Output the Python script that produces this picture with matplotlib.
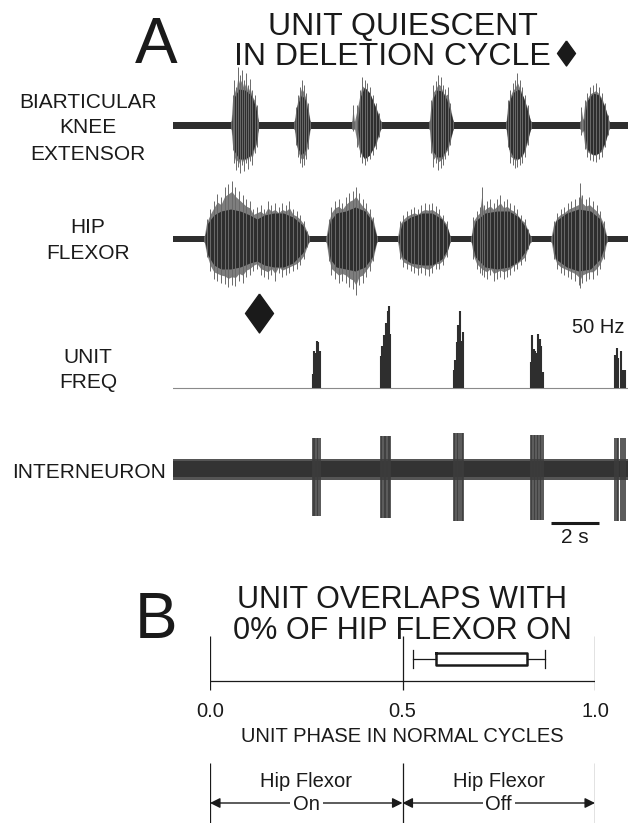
import numpy as np
import matplotlib
matplotlib.use("Agg")
import matplotlib.pyplot as plt
from matplotlib.lines import Line2D

plt.rcParams['font.family'] = ['Liberation Sans', 'DejaVu Sans']

# ---- data (time in s, EMG amplitude in arbitrary units, unit freq in Hz) ----
T_END = 18.96

# knee extensor bursts: outer spike extents (t, up, down) and dense core
KNEE_OUTER = [
    [(2.42, 4, 4), (2.48, 30, 25), (2.55, 45, 38), (2.62, 38, 45), (2.70, 58, 42), (2.78, 50, 48), (2.86, 55, 40),
     (2.95, 45, 46), (3.04, 52, 38), (3.12, 40, 44), (3.20, 46, 36), (3.30, 35, 40), (3.40, 30, 28), (3.50, 20, 22), (3.56, 4, 4)],
    [(5.05, 4, 4), (5.12, 18, 20), (5.20, 30, 32), (5.28, 38, 38), (5.36, 45, 42), (5.45, 40, 40), (5.54, 32, 34),
     (5.62, 22, 24), (5.72, 4, 4)],
    [(7.45, 4, 4), (7.50, 20, 6), (7.56, 4, 4), (7.68, 20, 22), (7.78, 35, 32), (7.88, 48, 38), (7.98, 45, 40),
     (8.08, 42, 36), (8.20, 38, 34), (8.32, 30, 30), (8.45, 22, 24), (8.58, 12, 12), (8.66, 4, 4)],
    [(10.68, 4, 4), (10.75, 25, 28), (10.85, 40, 42), (10.95, 44, 38), (11.05, 50, 45), (11.15, 48, 43),
     (11.25, 40, 40), (11.35, 36, 34), (11.45, 38, 30), (11.55, 22, 20), (11.68, 4, 4)],
    [(13.88, 4, 4), (13.95, 25, 22), (14.05, 35, 38), (14.15, 42, 40), (14.25, 45, 43), (14.35, 52, 42),
     (14.45, 45, 40), (14.55, 38, 38), (14.65, 30, 32), (14.78, 20, 20), (14.90, 4, 4)],
    [(16.98, 4, 4), (17.02, 18, 10), (17.08, 6, 6), (17.15, 25, 24), (17.25, 32, 32), (17.38, 38, 35),
     (17.50, 40, 36), (17.62, 42, 37), (17.75, 38, 34), (17.88, 32, 32), (18.00, 22, 22), (18.12, 10, 10), (18.18, 4, 4)],
]
KNEE_CORE = [
    [(2.45, 4, 4), (2.55, 28, 26), (2.75, 36, 34), (3.00, 35, 34), (3.25, 30, 30), (3.45, 18, 18), (3.55, 4, 4)],
    [(5.08, 4, 4), (5.18, 20, 22), (5.35, 30, 30), (5.50, 26, 26), (5.62, 14, 14), (5.70, 4, 4)],
    [(7.70, 4, 4), (7.80, 28, 26), (7.98, 38, 34), (8.20, 32, 30), (8.40, 20, 20), (8.58, 8, 8), (8.64, 4, 4)],
    [(10.72, 4, 4), (10.82, 26, 26), (11.00, 35, 32), (11.20, 34, 32), (11.40, 26, 24), (11.60, 10, 10), (11.67, 4, 4)],
    [(13.90, 4, 4), (14.00, 24, 24), (14.20, 33, 33), (14.40, 36, 34), (14.60, 28, 28), (14.80, 12, 12), (14.90, 4, 4)],
    [(17.12, 4, 4), (17.25, 24, 24), (17.50, 32, 30), (17.75, 30, 28), (18.00, 18, 18), (18.15, 4, 4)],
]
KNEE_NOISE = 3.5

HIP_OUTER = [
    [(1.30, 3, 3), (1.40, 20, 18), (1.55, 30, 32), (1.70, 38, 40), (1.85, 45, 42), (2.00, 42, 44), (2.15, 52, 45),
     (2.30, 55, 48), (2.45, 58, 46), (2.60, 52, 47), (2.75, 48, 42), (2.90, 44, 44), (3.05, 40, 38), (3.20, 38, 36),
     (3.35, 30, 32), (3.50, 32, 30), (3.65, 34, 36), (3.80, 30, 38), (3.95, 38, 40), (4.10, 34, 36), (4.25, 36, 42),
     (4.40, 32, 34), (4.55, 36, 38), (4.70, 34, 36), (4.85, 38, 34), (5.00, 30, 32), (5.15, 28, 30), (5.30, 24, 26),
     (5.45, 18, 20), (5.60, 8, 8), (5.68, 3, 3)],
    [(6.38, 3, 3), (6.48, 20, 22), (6.60, 32, 36), (6.75, 38, 40), (6.90, 40, 44), (7.05, 36, 42), (7.20, 42, 44),
     (7.35, 46, 48), (7.50, 48, 50), (7.62, 52, 56), (7.75, 46, 46), (7.90, 40, 44), (8.05, 36, 38), (8.20, 30, 32),
     (8.35, 22, 22), (8.50, 3, 3)],
    [(9.36, 3, 3), (9.45, 18, 20), (9.60, 24, 28), (9.75, 28, 30), (9.90, 30, 32), (10.05, 32, 34), (10.20, 30, 36),
     (10.35, 34, 34), (10.50, 36, 36), (10.65, 35, 37), (10.80, 36, 34), (10.95, 33, 30), (11.10, 30, 30),
     (11.25, 24, 26), (11.40, 18, 18), (11.55, 3, 3)],
    [(12.42, 3, 3), (12.52, 22, 20), (12.65, 28, 30), (12.78, 32, 34), (12.86, 52, 36), (12.94, 34, 38),
     (13.08, 38, 40), (13.22, 40, 36), (13.36, 36, 42), (13.50, 40, 40), (13.64, 44, 38), (13.78, 38, 40),
     (13.92, 40, 38), (14.06, 36, 36), (14.20, 34, 32), (14.34, 30, 30), (14.50, 24, 26), (14.66, 20, 22),
     (14.80, 10, 10), (14.90, 3, 3)],
    [(15.76, 3, 3), (15.86, 18, 20), (16.00, 26, 30), (16.15, 30, 34), (16.30, 32, 36), (16.45, 36, 38),
     (16.60, 38, 40), (16.75, 40, 42), (16.90, 42, 46), (16.97, 56, 49), (17.05, 44, 44), (17.20, 40, 42),
     (17.35, 42, 40), (17.50, 38, 40), (17.65, 34, 36), (17.80, 28, 30), (17.95, 18, 20), (18.08, 3, 3)],
]
HIP_CORE = [
    [(1.33, 3, 3), (1.45, 16, 16), (1.70, 24, 26), (2.00, 28, 30), (2.40, 30, 30), (2.80, 28, 28), (3.20, 24, 24),
     (3.50, 20, 22), (3.80, 24, 26), (4.20, 26, 28), (4.60, 26, 28), (5.00, 22, 24), (5.40, 14, 14), (5.64, 3, 3)],
    [(6.42, 3, 3), (6.55, 18, 20), (6.80, 26, 28), (7.20, 28, 30), (7.60, 32, 32), (8.00, 28, 28), (8.30, 18, 18), (8.48, 3, 3)],
    [(9.40, 3, 3), (9.55, 16, 18), (9.90, 22, 24), (10.40, 26, 26), (10.80, 26, 26), (11.20, 20, 20), (11.45, 10, 10), (11.54, 3, 3)],
    [(12.44, 3, 3), (12.60, 18, 18), (13.00, 26, 28), (13.50, 28, 30), (14.00, 28, 28), (14.40, 22, 22), (14.75, 10, 10), (14.88, 3, 3)],
    [(15.80, 3, 3), (15.95, 18, 20), (16.40, 26, 28), (16.90, 30, 32), (17.40, 28, 30), (17.80, 20, 20), (18.05, 3, 3)],
]
HIP_NOISE = 3.2

# unit spike times (s) and instantaneous frequency (Hz), one list per burst
UNIT_TIMES = [
    [5.82, 5.88, 5.93, 6.00, 6.05, 6.11],
    [8.67, 8.72, 8.78, 8.83, 8.89, 8.95, 9.00, 9.05],
    [11.71, 11.76, 11.82, 11.89, 11.96, 12.04, 12.10],
    [14.92, 14.97, 15.03, 15.08, 15.15, 15.22, 15.29, 15.35, 15.42],
    [18.42, 18.49, 18.55, 18.65, 18.74, 18.83],
]
UNIT_FREQ = [
    [8, 21, 20, 27, 26, 21],
    [18, 24, 30, 28, 37, 44, 47, 31],
    [10, 16, 26, 36, 44, 27, 32],
    [15, 30, 22, 21, 20, 31, 28, 24, 9],
    [19, 23, 17, 21, 10, 10],
]
# interneuron spike extents per burst (up, down)
SPIKE_UP = [30, 32, 35, 33, 30]
SPIKE_DOWN = [48, 50, 53, 52, 53]
INT_NOISE = (9, 12)
DELETION_T = 3.58

# panel B: phase of unit activity in normal cycles
PHASE_WHISK_LO, PHASE_Q1, PHASE_Q3, PHASE_WHISK_HI = 0.527, 0.587, 0.823, 0.870
PHASE_TICKS = [0.0, 0.5, 1.0]
PHASE_TICKLABELS = ["0.0", "0.5", "1.0"]

DARK = "#2e2e2e"
MID = "#6a6a6a"
HALO = "#7e7e7e"
TXT = "#1a1a1a"

W, H = 628, 823
fig = plt.figure(figsize=(W / 100, H / 100), dpi=100)


def box(left, top, right, bottom):
    return [left / W, 1 - bottom / H, (right - left) / W, (bottom - top) / H]


def ftext(x, y, s, size, ha="center", **kw):
    fig.text(x / W, 1 - y / H, s, fontsize=size, ha=ha, va="baseline", color=TXT, **kw)


def emg(ax, outer, core, noise):
    ax.fill_between([0, T_END], [noise, noise], [-noise, -noise], color=DARK, lw=0)
    for b in outer:
        a = np.array(b, dtype=float)
        # dense grey spikes hugging the core, sparse taller spikes beyond
        ax.fill_between(a[:, 0], a[:, 1] * 0.82, -a[:, 2] * 0.82, color=HALO, lw=0)
        ax.vlines(a[:, 0], -a[:, 2], a[:, 1], color=MID, lw=0.7)
    for b in core:
        a = np.array(b, dtype=float)
        ax.fill_between(a[:, 0], a[:, 1], -a[:, 2], color=DARK, lw=0)


def trace_axes(rect, ylim):
    ax = fig.add_axes(rect)
    ax.set_xlim(0, T_END)
    ax.set_ylim(*ylim)
    ax.axis("off")
    ax.patch.set_alpha(0)
    return ax


# ---- panel A ----
ax_knee = trace_axes(box(173, 60, 628, 190), (-65, 65))
emg(ax_knee, KNEE_OUTER, KNEE_CORE, KNEE_NOISE)

ax_hip = trace_axes(box(173, 174, 628, 304), (-65, 65))
emg(ax_hip, HIP_OUTER, HIP_CORE, HIP_NOISE)

ax_unit = trace_axes(box(173, 286, 628, 392), (-2.28, 58.15))
ax_unit.axhline(0, color="#8a8a8a", lw=0.8)
for ts, fs in zip(UNIT_TIMES, UNIT_FREQ):
    ax_unit.vlines(ts, 0, fs, color=DARK, lw=1.5)
diamond = [(0, 1), (0.72, 0), (0, -1), (-0.72, 0), (0, 1)]
ax_unit.plot([DELETION_T], [43], marker=diamond, markersize=28, color="#1a1a1a", ls="none")

ax_int = trace_axes(box(173, 420, 628, 545), (-77, 48))
ax_int.fill_between([0, T_END], [INT_NOISE[0]] * 2, [-INT_NOISE[1]] * 2, color="#555555", lw=0)
ax_int.fill_between([0, T_END], [7] * 2, [-9] * 2, color="#333333", lw=0)
for ts, up, dn in zip(UNIT_TIMES, SPIKE_UP, SPIKE_DOWN):
    ax_int.vlines(ts, -dn, up, color="#3c3c3c", lw=1.2)
ax_int.plot([15.75, 17.75], [-55, -55], color=TXT, lw=2.2, solid_capstyle="butt")
ax_int.text(16.75, -75, "2 s", fontsize=15, ha="center", va="baseline", color=TXT)

ftext(135, 63, "A", 46, ha="left")
ftext(403, 35, "UNIT QUIESCENT", 23)
ftext(392, 65, "IN DELETION CYCLE", 23)
fig.add_artist(Line2D([566 / W], [1 - 52.5 / H], marker=diamond, markersize=18, color="#1a1a1a",
                      ls="none", transform=fig.transFigure))

for lines, base in [(["BIARTICULAR", "KNEE", "EXTENSOR"], [108, 133, 160]),
                    (["HIP", "FLEXOR"], [233, 259]),
                    (["UNIT", "FREQ"], [363, 388])]:
    for s, y in zip(lines, base):
        ftext(88, y, s, 15)
ftext(12, 478, "INTERNEURON", 15, ha="left")
ftext(598, 333, "50 Hz", 14.5)

# ---- panel B ----
ftext(135, 638, "B", 46, ha="left")
ftext(402, 608, "UNIT OVERLAPS WITH", 22)
ftext(402, 639, "0% OF HIP FLEXOR ON", 22)

TOP_B = 630
ax_b = fig.add_axes(box(210, TOP_B, 595, H))
ax_b.set_xlim(0, 1)
ax_b.set_ylim(H, TOP_B)  # layout rows measured downwards
ax_b.axis("off")
ax_b.patch.set_alpha(0)

ax_b.vlines(PHASE_TICKS, 636, 690, color=TXT, lw=0.9)
ax_b.hlines(681, PHASE_TICKS[0], PHASE_TICKS[-1], color=TXT, lw=0.9)
stats = [dict(med=np.nan, q1=PHASE_Q1, q3=PHASE_Q3, whislo=PHASE_WHISK_LO, whishi=PHASE_WHISK_HI)]
ax_b.bxp(stats, positions=[658.5], widths=12, capwidths=18, orientation="horizontal", showfliers=False,
         manage_ticks=False,
         boxprops=dict(color=TXT, lw=1.8), whiskerprops=dict(color=TXT, lw=0.9),
         capprops=dict(color=TXT, lw=0.9), medianprops=dict(lw=0))
for x, s in zip(PHASE_TICKS, PHASE_TICKLABELS):
    ax_b.text(x, 717, s, fontsize=14.5, ha="center", va="baseline", color=TXT)
ax_b.text(0.5, 742, "UNIT PHASE IN NORMAL CYCLES", fontsize=14.5, ha="center", va="baseline", color=TXT)

ax_b.vlines(PHASE_TICKS, 763, H, color=TXT, lw=0.9)
for (x0, x1), lab in zip([(0.0, 0.5), (0.5, 1.0)], ["On", "Off"]):
    ax_b.annotate("", xy=(x1, 803), xytext=(x0, 803),
                  arrowprops=dict(arrowstyle="<|-|>,head_length=0.6,head_width=0.3", mutation_scale=10,
                                  lw=1.0, color=TXT, shrinkA=0, shrinkB=0))
    xc = (x0 + x1) / 2
    ax_b.text(xc, 787, "Hip Flexor", fontsize=14.5, ha="center", va="baseline", color=TXT)
    ax_b.text(xc, 810, lab, fontsize=14.5, ha="center", va="baseline", color=TXT,
              bbox=dict(facecolor="white", edgecolor="none", pad=2))

fig.savefig("out.png", dpi=100)
